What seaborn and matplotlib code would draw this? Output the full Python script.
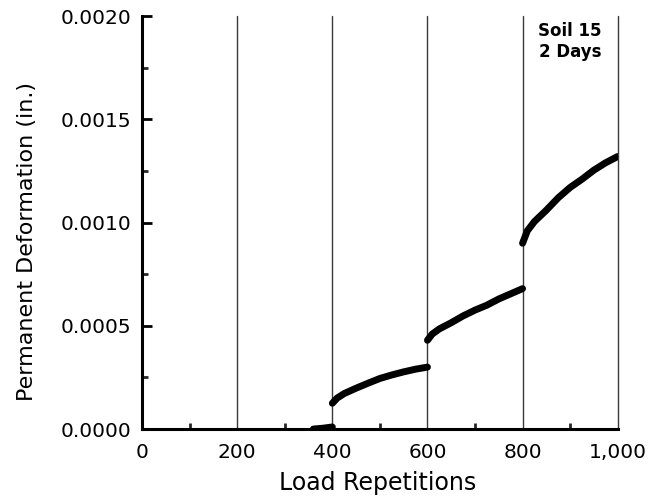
import matplotlib
matplotlib.use("Agg")
import matplotlib.pyplot as plt
import seaborn as sns
import pandas as pd
from matplotlib.ticker import MultipleLocator, FixedLocator

# Data
seg0_x = [360, 380, 400]
seg0_y = [0.0, 0.000004, 0.00001]
seg1_x = [400, 410, 425, 450, 475, 500, 525, 550, 575, 600]
seg1_y = [0.000125, 0.00015, 0.000172, 0.000198, 0.000222, 0.000245, 0.000262, 0.000277, 0.00029, 0.0003]
seg2_x = [600, 610, 625, 650, 675, 700, 725, 750, 775, 800]
seg2_y = [0.00043, 0.00046, 0.000485, 0.000515, 0.000548, 0.000576, 0.0006, 0.00063, 0.000655, 0.00068]
seg3_x = [800, 810, 825, 850, 875, 900, 925, 950, 975, 1000]
seg3_y = [0.0009, 0.00096, 0.001005, 0.00106, 0.00112, 0.00117, 0.00121, 0.001254, 0.00129, 0.00132]
divider_x = [200, 400, 600, 800, 1000]
x_ticks = [0, 200, 400, 600, 800, 1000]
x_tick_labels = ["0", "200", "400", "600", "800", "1,000"]
y_ticks = [0.0, 0.0005, 0.0010, 0.0015, 0.0020]
y_tick_labels = ["0.0000", "0.0005", "0.0010", "0.0015", "0.0020"]

rows = []
for seg, (xs, ys) in enumerate([(seg0_x, seg0_y), (seg1_x, seg1_y), (seg2_x, seg2_y), (seg3_x, seg3_y)]):
    for x, y in zip(xs, ys):
        rows.append({"reps": x, "deform": y, "seg": seg})
df = pd.DataFrame(rows)

sns.set_style("white")
plt.rcParams["font.family"] = ["DejaVu Sans"]

fig = plt.figure(figsize=(6.55, 5.03), dpi=100)
ax = fig.add_axes([0.217, 0.147, 0.726, 0.821])

for xv in divider_x:
    ax.axvline(xv, color="#3a3a3a", lw=1.0, zorder=1, clip_on=False)

sns.lineplot(data=df, x="reps", y="deform", units="seg", estimator=None,
             color="black", lw=5, ax=ax, zorder=3, solid_capstyle="round")

ax.set_xlim(0, 1000)
ax.set_ylim(0, 0.0020)
ax.xaxis.set_major_locator(FixedLocator(x_ticks))
ax.set_xticklabels(x_tick_labels)
ax.yaxis.set_major_locator(FixedLocator(y_ticks))
ax.set_yticklabels(y_tick_labels)
ax.xaxis.set_minor_locator(MultipleLocator(100))
ax.yaxis.set_minor_locator(MultipleLocator(0.00025))
ax.tick_params(axis="both", which="both", left=True, bottom=True)
ax.tick_params(axis="y", which="major", direction="in", length=7, width=2,
               labelsize=14.5, colors="black", labelcolor="black", pad=8)
ax.tick_params(axis="x", which="major", direction="in", length=0,
               labelsize=14.5, colors="black", labelcolor="black", pad=10)
ax.tick_params(axis="both", which="minor", direction="in", length=4, width=2)

for s in ["top", "right"]:
    ax.spines[s].set_visible(False)
for s in ["left", "bottom"]:
    ax.spines[s].set_linewidth(2.2)
    ax.spines[s].set_color("black")

ax.set_xlabel("Load Repetitions", fontsize=17, color="black")
ax.set_ylabel("Permanent Deformation (in.)", fontsize=16, color="black")
ax.xaxis.set_label_coords(0.496, -0.102)
ax.yaxis.set_label_coords(-0.222, 0.455)

ax.text(900, 0.00197, "Soil 15\n2 Days", ha="center", va="top", fontsize=12,
        fontweight="bold", linespacing=1.2, color="black")

fig.savefig("out.png", dpi=100)
